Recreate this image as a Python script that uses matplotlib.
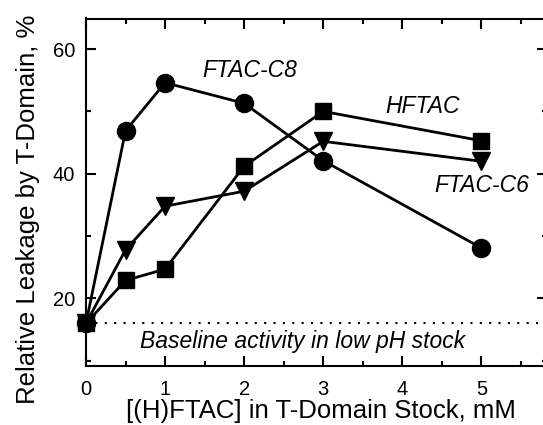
import matplotlib
matplotlib.use('Agg')
import matplotlib.pyplot as plt
from matplotlib.ticker import MultipleLocator

plt.rcParams['font.family'] = ['Liberation Sans', 'DejaVu Sans']

# concentration of (H)FTAC in stock, mM
conc = [0, 0.5, 1, 2, 3, 5]

# relative leakage, %
ftac_c8 = [16.0, 46.9, 54.6, 51.3, 42.1, 28.1]
hftac = [16.0, 22.9, 24.7, 41.2, 50.0, 45.3]
ftac_c6 = [16.0, 27.8, 34.8, 37.2, 45.2, 42.0]

baseline = 16.1

W, H = 543, 425
fig = plt.figure(figsize=(W / 100, H / 100), dpi=100)
ax = fig.add_axes([86 / W, 59 / H, 461 / W, 347.5 / H])

ax.axhline(baseline, color='black', linestyle=(0, (1, 3.5)), linewidth=1.5, zorder=1)

line_kw = dict(color='black', linewidth=2, clip_on=False, zorder=3)
ax.plot(conc, ftac_c8, marker='o', markersize=13, **line_kw)
ax.plot(conc, hftac, marker='s', markersize=11.5, **line_kw)
ax.plot(conc, ftac_c6, marker='v', markersize=13, **line_kw)

txt_kw = dict(fontsize=16.5, style='italic', ha='center', va='center')
ax.text(2.07, 56.5, 'FTAC-C8', **txt_kw)
ax.text(4.25, 50.8, 'HFTAC', **txt_kw)
ax.text(5.01, 38.1, 'FTAC-C6', **txt_kw)
ax.text(2.74, 13.1, 'Baseline activity in low pH stock', **txt_kw)

ax.set_xlim(0, 5.83)
ax.set_ylim(9.17, 64.9)
ax.xaxis.set_major_locator(MultipleLocator(1))
ax.xaxis.set_minor_locator(MultipleLocator(0.5))
ax.yaxis.set_major_locator(MultipleLocator(20))
ax.yaxis.set_minor_locator(MultipleLocator(10))

ax.tick_params(which='both', direction='in', top=True, right=True, width=1.5,
               labelsize=14.5)
ax.tick_params(axis='x', pad=10)
ax.tick_params(axis='y', pad=8)
ax.tick_params(which='major', length=7.5)
ax.tick_params(which='minor', length=3.8)
for sp in ax.spines.values():
    sp.set_linewidth(1.5)

# axis titles placed by hand to match the layout
fig.text(320.5 / W, 7 / H, '[(H)FTAC] in T-Domain Stock, mM', fontsize=18.5,
         ha='center', va='baseline')
fig.text(35 / W, 1 - 209.5 / H, 'Relative Leakage by T-Domain, %', fontsize=18.5,
         rotation=90, rotation_mode='anchor', ha='center', va='baseline')

fig.savefig('out.png', dpi=100)
